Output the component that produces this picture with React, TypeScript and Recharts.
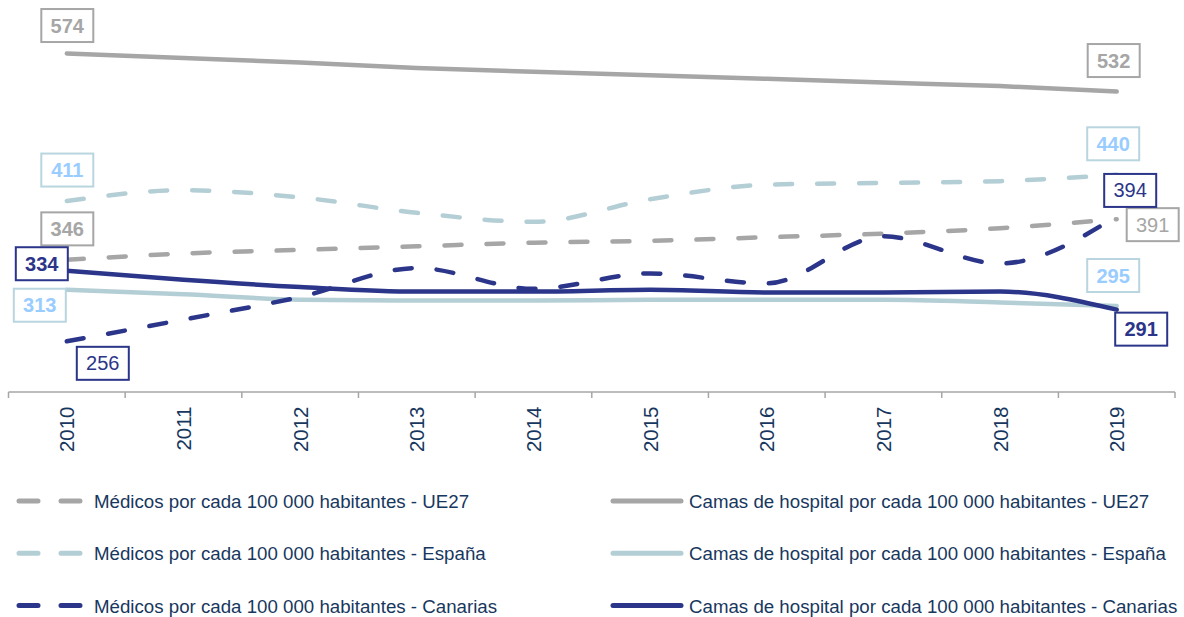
import React from 'react';
import { LineChart, Line, XAxis, YAxis, LabelList } from 'recharts';

const years = ['2010', '2011', '2012', '2013', '2014', '2015', '2016', '2017', '2018', '2019'];
const medicosUE27 = [346, 353, 357, 361, 365, 367, 371, 375, 381, 391];
const camasUE27 = [574, 569, 564, 558, 554, 550, 546, 542, 538, 532];
const medicosEspana = [411, 423, 415, 398, 388, 413, 429, 431, 433, 440];
const camasEspana = [313, 308, 302, 301, 301, 302, 302, 302, 299, 295];
const medicosCanarias = [256, 280, 305, 337, 314, 331, 320, 372, 342, 394];
const camasCanarias = [334, 324, 316, 311, 311, 313, 310, 310, 311, 291];

const data = years.map((y, i) => ({
  year: y,
  mUE: medicosUE27[i],
  cUE: camasUE27[i],
  mES: medicosEspana[i],
  cES: camasEspana[i],
  mCA: medicosCanarias[i],
  cCA: camasCanarias[i],
}));

const GRAY = '#A6A6A6';
const LIGHT = '#B4CED6';
const LIGHT_TXT = '#99CCFF';
const LIGHT_BORDER = '#B9D5DF';
const NAVY = '#2B3589';
const TEXT = '#17375E';
const FONT = '"Liberation Sans", Arial, sans-serif';
const HALF_BAND = 58.3;

type LabelCfg = { dx: number; dy: number; bold: boolean };
type Series = {
  key: string;
  name: string;
  color: string;
  dashed: boolean;
  txt: string;
  border: string;
  labels: [LabelCfg, LabelCfg];
};

const series: Series[] = [
  { key: 'mUE', name: 'Médicos por cada 100 000 habitantes - UE27', color: GRAY, dashed: true, txt: GRAY, border: GRAY,
    labels: [{ dx: 0.5, dy: -31, bold: true }, { dx: 36, dy: 5.5, bold: false }] },
  { key: 'cUE', name: 'Camas de hospital por cada 100 000 habitantes - UE27', color: GRAY, dashed: false, txt: GRAY, border: GRAY,
    labels: [{ dx: 0.5, dy: -28, bold: true }, { dx: -3, dy: -31, bold: true }] },
  { key: 'mES', name: 'Médicos por cada 100 000 habitantes - España', color: LIGHT, dashed: true, txt: LIGHT_TXT, border: LIGHT_BORDER,
    labels: [{ dx: 0.5, dy: -31, bold: true }, { dx: -3.5, dy: -31, bold: true }] },
  { key: 'cES', name: 'Camas de hospital por cada 100 000 habitantes - España', color: LIGHT, dashed: false, txt: LIGHT_TXT, border: LIGHT_BORDER,
    labels: [{ dx: -27, dy: 15.5, bold: true }, { dx: -3.5, dy: -30.5, bold: true }] },
  { key: 'mCA', name: 'Médicos por cada 100 000 habitantes - Canarias', color: NAVY, dashed: true, txt: NAVY, border: NAVY,
    labels: [{ dx: 36, dy: 22, bold: false }, { dx: 13.5, dy: -26, bold: false }] },
  { key: 'cCA', name: 'Camas de hospital por cada 100 000 habitantes - Canarias', color: NAVY, dashed: false, txt: NAVY, border: NAVY,
    labels: [{ dx: -25, dy: -7, bold: true }, { dx: 24.5, dy: 19.5, bold: true }] },
];

const makeLabel = (s: Series) => (props: any) => {
  const { x, y, index, value } = props;
  const last = years.length - 1;
  if (index !== 0 && index !== last) return null;
  const cfg = s.labels[index === 0 ? 0 : 1];
  const cx = x + cfg.dx;
  const cy = y + cfg.dy;
  const w = 52;
  const h = 33;
  return (
    <g>
      <rect x={cx - w / 2} y={cy - h / 2} width={w} height={h} fill="#fff" stroke={s.border} strokeWidth={2} />
      <text x={cx} y={cy + 7} textAnchor="middle" fontFamily={FONT} fontSize={20}
        fontWeight={cfg.bold ? 'bold' : 'normal'} fill={s.txt}>{value}</text>
    </g>
  );
};

const AxisTick = (props: any) => {
  const { x, y, payload, index } = props;
  const last = years.length - 1;
  return (
    <g>
      <line x1={x - HALF_BAND} y1={y} x2={x - HALF_BAND} y2={y + 6} stroke={GRAY} strokeWidth={1.5} />
      {index === last && <line x1={x + HALF_BAND} y1={y} x2={x + HALF_BAND} y2={y + 6} stroke={GRAY} strokeWidth={1.5} />}
      <text transform={`translate(${x + 7.5},${y + 14.5}) rotate(-90)`} textAnchor="end"
        fontFamily={FONT} fontSize={20.5} fill={TEXT}>{payload.value}</text>
    </g>
  );
};

const legendRows = [
  [series[0], series[1]],
  [series[2], series[3]],
  [series[4], series[5]],
];

export default function App() {
  return (
    <div style={{ position: 'absolute', left: 0, top: 0, width: 1184, height: 617, background: '#fff' }}>
      <LineChart width={1184} height={617} data={data}
        margin={{ top: 30, right: 9, left: 8.5, bottom: 165 }}>
        <XAxis dataKey="year" height={60} axisLine={{ stroke: GRAY, strokeWidth: 1.5 }} tickLine={false}
          tickSize={0} tickMargin={0} tick={<AxisTick />} interval={0}
          padding={{ left: HALF_BAND, right: HALF_BAND }} />
        <YAxis hide domain={[200, 600]} />
        {series.map((s) => (
          <Line key={s.key} dataKey={s.key} type="monotone" stroke={s.color} strokeWidth={4.5}
            strokeDasharray={s.dashed ? '17 25' : undefined} strokeLinecap="round"
            dot={false} activeDot={false} isAnimationActive={false} />
        ))}
        {series.map((s) => (
          <Line key={s.key + '-lbl'} dataKey={s.key} type="monotone" stroke="none" legendType="none"
            dot={false} activeDot={false} isAnimationActive={false}>
            <LabelList dataKey={s.key} content={makeLabel(s)} />
          </Line>
        ))}
      </LineChart>
      <svg width={1184} height={147} style={{ position: 'absolute', left: 0, top: 470 }}>
        {legendRows.map((row, r) => {
          const cy = 31 + r * 52.3;
          return (
            <g key={r}>
              <line x1={19} y1={cy} x2={80} y2={cy} stroke={row[0].color} strokeWidth={5}
                strokeDasharray="19 23" strokeLinecap="round" />
              <text x={94} y={cy + 7} fontFamily={FONT} fontSize={18.7} fill={TEXT}>{row[0].name}</text>
              <line x1={613} y1={cy} x2={681} y2={cy} stroke={row[1].color} strokeWidth={5} strokeLinecap="round" />
              <text x={689} y={cy + 7} fontFamily={FONT} fontSize={18.7} fill={TEXT}>{row[1].name}</text>
            </g>
          );
        })}
      </svg>
    </div>
  );
}
